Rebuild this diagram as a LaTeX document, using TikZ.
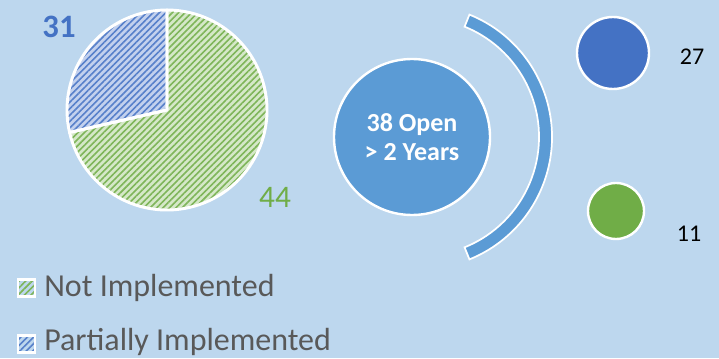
\documentclass[tikz,border=0pt]{standalone}
\usepackage{fontspec}
\setmainfont{Carlito}
\usetikzlibrary{patterns.meta}
\definecolor{bg}{HTML}{BDD7EE}
\definecolor{midblue}{HTML}{5B9BD5}
\definecolor{dkblue}{HTML}{4472C4}
\definecolor{dkgreen}{HTML}{70AD47}
\definecolor{ltgreen}{HTML}{D5E8C8}
\definecolor{ltblue}{HTML}{C3D1EE}
\definecolor{legtext}{HTML}{595959}
\tikzset{
  whiteedge/.style={draw=white,line width=2.2pt,line join=round},
  greenhatch/.style={pattern={Lines[angle=45,distance=3.4pt,line width=1.2pt]},pattern color=dkgreen!90},
  bluehatch/.style={pattern={Lines[angle=45,distance=3.4pt,line width=1.2pt]},pattern color=dkblue!90},
  bignum/.style={inner sep=0pt,font=\fontsize{23.5pt}{27pt}\selectfont},
  smallnum/.style={inner sep=0pt,font=\fontsize{18pt}{22pt}\selectfont},
  legtxt/.style={inner sep=0pt,anchor=base west,text=legtext,font=\fontsize{24pt}{28pt}\selectfont},
  legbox/.style={draw=white,line width=1.8pt,minimum size=12.5pt,inner sep=0pt},
  dot/.style={circle,draw=white,line width=1.8pt,inner sep=0pt}
}
\begin{document}
\begin{tikzpicture}[x=0.75pt,y=0.75pt]
\fill[bg] (0,0) rectangle (719,358);
\useasboundingbox (0,0) rectangle (719,358);
% pie
\coordinate (pc) at (167,248);
\fill[ltgreen] (pc) -- ++(193:100) arc[start angle=193,end angle=450,radius=100] -- cycle;
\fill[greenhatch] (pc) -- ++(193:100) arc[start angle=193,end angle=450,radius=100] -- cycle;
\fill[ltblue] (pc) -- ++(90:100) arc[start angle=90,end angle=193,radius=100] -- cycle;
\fill[bluehatch] (pc) -- ++(90:100) arc[start angle=90,end angle=193,radius=100] -- cycle;
\draw[whiteedge] (pc) -- ++(193:100) arc[start angle=193,end angle=450,radius=100] -- cycle;
\draw[whiteedge] (pc) -- ++(90:100) arc[start angle=90,end angle=193,radius=100] -- cycle;
\node[bignum,text=dkblue,font=\fontsize{24.5pt}{28pt}\selectfont\bfseries] (n31) at (59,331) {31};
\node[bignum,text=dkgreen] (n44) at (275,161) {44};
% center circle
\node[circle,fill=midblue,draw=white,line width=1.8pt,minimum size=117pt,inner sep=0pt,
      text=white,align=center,font=\fontsize{19.5pt}{22pt}\selectfont\bfseries] (open) at (412,221) {38 Open\\> 2 Years};
% arc band
\coordinate (ac) at (420,221);
\filldraw[fill=midblue,draw=white,line width=1.3pt,line join=miter]
  ([shift={(68:132)}]ac) arc[start angle=68,end angle=-68,radius=132]
  -- ([shift={(-68:119)}]ac) arc[start angle=-68,end angle=68,radius=119] -- cycle;
% small circles
\node[dot,fill=dkblue,minimum size=54pt] (b27) at (613,305) {};
\node[dot,fill=dkgreen,minimum size=42pt] (g11) at (616,147) {};
\node[smallnum] (t27) at (692,301) {27};
\node[smallnum] (t11) at (689,124) {11};
% legend
\node[legbox,fill=ltgreen,greenhatch] (lb1) at (26.5,70) {};
\node[legbox,fill=ltblue,bluehatch] (lb2) at (26.5,14) {};
\node[legtxt] (lt1) at (44,62) {Not Implemented};
\node[legtxt] (lt2) at (44,8) {Partially Implemented};
\end{tikzpicture}
\end{document}
